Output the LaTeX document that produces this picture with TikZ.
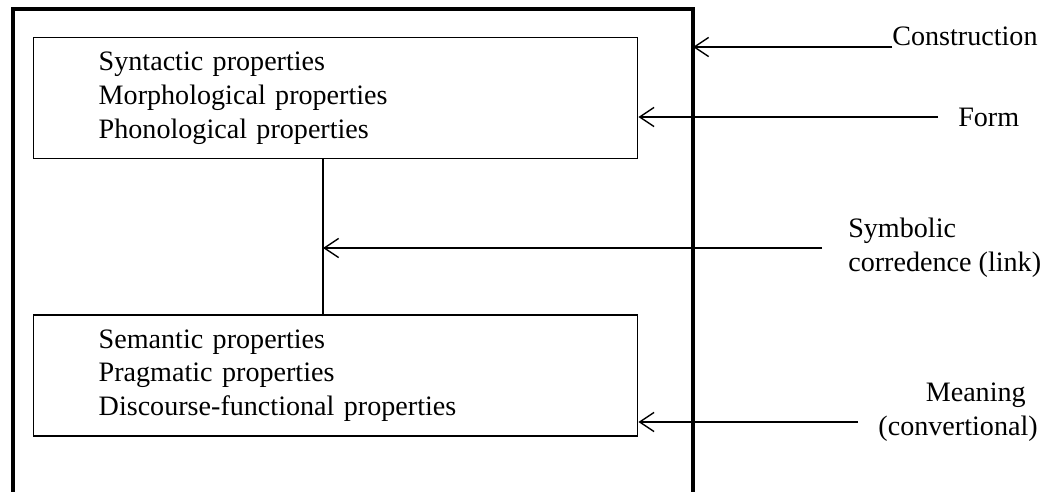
\documentclass[tikz,border=0pt]{standalone}
\usepackage{fontspec}
\setmainfont{Liberation Serif}
\usepackage{tikz}
\usetikzlibrary{arrows.meta,positioning}
\definecolor{FrameInk}{HTML}{000000}

\begin{document}
\begin{tikzpicture}[every node/.style={font=\fontsize{20}{24}\selectfont},arr/.style={-{Straight Barb[length=3.6mm,width=4.8mm]},line width=1pt},prop/.style={draw,line width=1pt,minimum height=30.25mm,text width=118.5mm,inner xsep=16.25mm,align=left}]
\useasboundingbox (0,0) rectangle (26,-12.3);
\coordinate (frameNW) at (0.325,-0.225);
\coordinate (frameNE) at (17.325,-0.225);
\draw[FrameInk,line width=2.2pt] (0.325,-12.4) -- (frameNW) -- (frameNE) -- (17.325,-12.4);
\node[prop,anchor=north west] (syn) at (0.825,-0.925) {Syntactic properties\\Morphological properties\\Phonological properties};
\node[prop,below=38.75mm of syn] (sem) {Semantic properties\\Pragmatic properties\\Discourse-functional properties};
\coordinate (link) at (8.075,-6.2);
\draw[line width=1pt] (syn.south -| link) -- (sem.north -| link);
\coordinate (tcons) at (22.3,-1.175);
\node[inner xsep=0,inner ysep=1pt,anchor=south west] (lcons) at (tcons) {Construction};
\draw[arr] (tcons) -- (tcons -| frameNE);
\coordinate (tform) at (23.45,-2.925);
\node[right=5mm of tform,inner sep=0] (lform) {Form};
\draw[arr] (tform) -- (tform -| syn.east);
\coordinate (tlink) at (20.55,-6.2);
\node[right=6.5mm of tlink,inner sep=0,align=left] (llink) {Symbolic\\corredence (link)};
\draw[arr] (tlink) -- (link);
\coordinate (tmean) at (21.45,-10.55);
\node[inner sep=0,align=right,anchor=east] (lmean) at (25.95,-10.3) {Meaning\hspace*{3mm}\\(convertional)};
\draw[arr] (tmean) -- (tmean -| sem.east);
\end{tikzpicture}
\end{document}
